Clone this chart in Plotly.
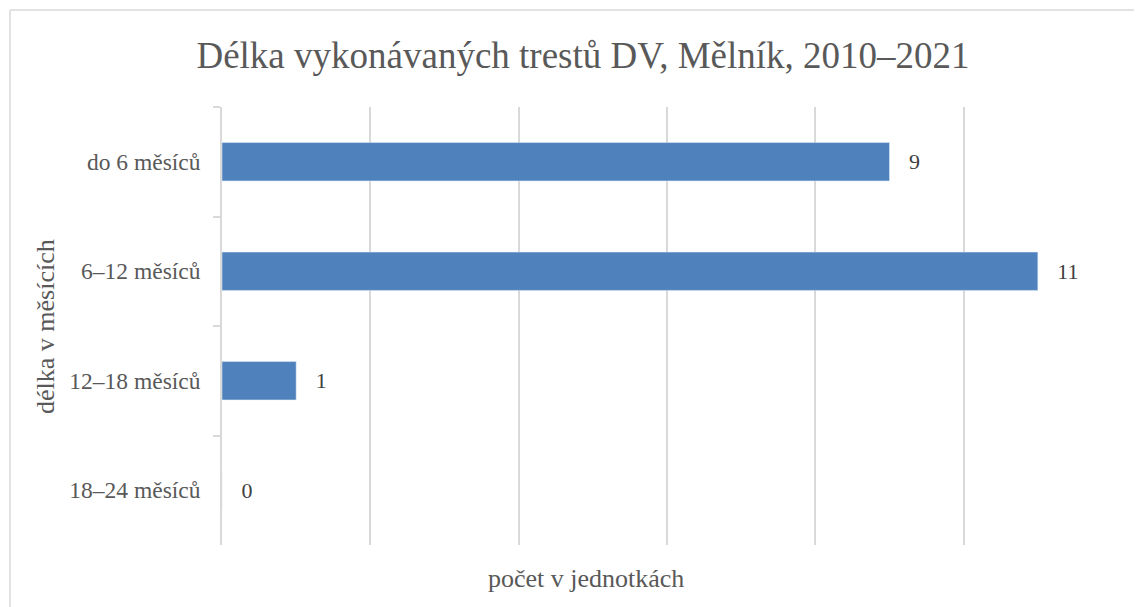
import plotly.graph_objects as go

categories = ["do 6 měsíců", "6–12 měsíců", "12–18 měsíců", "18–24 měsíců"]
values = [9, 11, 1, 0]
title_text = "Délka vykonávaných trestů DV, Mělník, 2010–2021"
x_title = "počet v jednotkách"
y_title = "délka v měsících"

FONT = "Liberation Serif, Times New Roman, serif"
OFF = 8  # default page body margin

# plot area in page pixels
PL, PR, PT, PB = 222, 1112, 107, 545
PW, PH = PR - PL, PB - PT

fig = go.Figure()
fig.add_trace(go.Bar(
    y=categories,
    x=values,
    orientation="h",
    marker=dict(color="#4f81bd"),
    text=["   " + str(v) for v in values],
    textposition="outside",
    textfont=dict(family=FONT, size=22, color="#404040"),
    cliponaxis=False,
    width=0.35,
))

W, H = 1142 - OFF, 607 - OFF
fig.update_layout(
    width=W, height=H,
    margin=dict(l=PL - OFF, r=W - (PR - OFF), t=PT - OFF, b=H - (PB - OFF)),
    paper_bgcolor="white",
    plot_bgcolor="white",
    showlegend=False,
    title=dict(text=title_text, x=(583 - OFF) / W, xanchor="center",
               y=1 - (55 - OFF) / H, yanchor="middle",
               font=dict(family=FONT, size=37, color="#595959")),
    font=dict(family=FONT, color="#595959"),
    xaxis=dict(range=[0, 12], dtick=2, tick0=0, showticklabels=False,
               showgrid=True, gridcolor="#d9d9d9", gridwidth=1.5,
               zeroline=False, showline=False, ticks=""),
    yaxis=dict(autorange="reversed", showline=True, linecolor="#d9d9d9", linewidth=1.5,
               ticks="outside", ticklen=7, tickcolor="#d9d9d9", tickwidth=1.5,
               tickson="boundaries", ticklabelstandoff=15,
               tickfont=dict(family=FONT, size=23.5, color="#595959"),
               showgrid=False, zeroline=False),
)

fig.add_annotation(text=x_title, xref="paper", yref="paper",
                   x=(586 - PL) / PW, y=-(578 - PB) / PH, xanchor="center", yanchor="middle",
                   showarrow=False, font=dict(family=FONT, size=26, color="#595959"))
fig.add_annotation(text=y_title, xref="paper", yref="paper", textangle=-90,
                   x=(45 - PL) / PW, y=(PB - 327) / PH, xanchor="center", yanchor="middle",
                   showarrow=False, font=dict(family=FONT, size=26, color="#595959"))

# chart border (top and left edges visible)
ytop = (PB - 10) / PH
xleft = (10 - PL) / PW
fig.add_shape(type="line", xref="paper", yref="paper",
              x0=xleft, x1=(1142 - PL) / PW, y0=ytop, y1=ytop,
              line=dict(color="#d9d9d9", width=1.5))
fig.add_shape(type="line", xref="paper", yref="paper",
              x0=xleft, x1=xleft, y0=ytop, y1=(PB - 607) / PH,
              line=dict(color="#d9d9d9", width=1.5))

fig.write_html("out.html")
